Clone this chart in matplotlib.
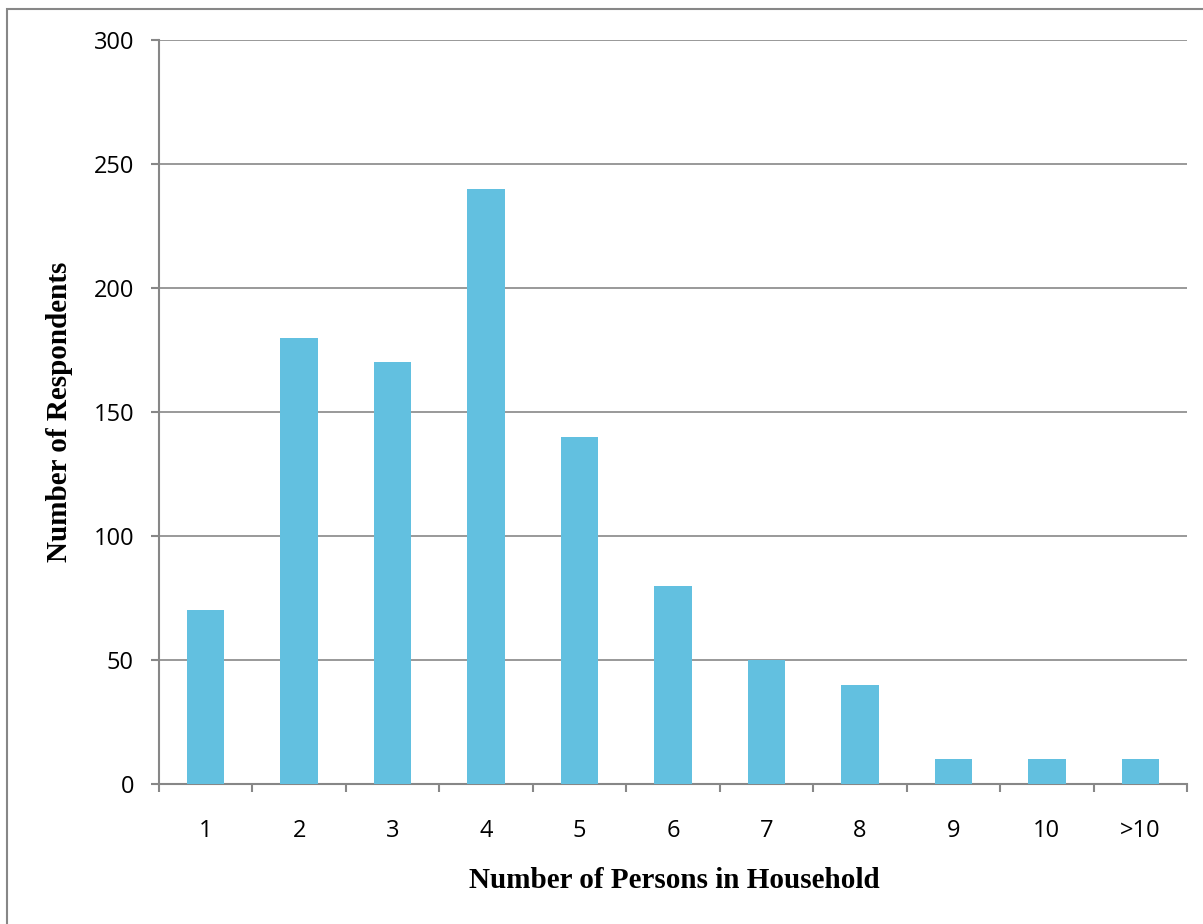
import matplotlib
matplotlib.use("Agg")
import matplotlib.pyplot as plt
from matplotlib.patches import Rectangle
import numpy as np

categories = ["1", "2", "3", "4", "5", "6", "7", "8", "9", "10", ">10"]
respondents = [70, 180, 170, 240, 140, 80, 50, 40, 10, 10, 10]
y_ticks = [0, 50, 100, 150, 200, 250, 300]

W, H = 1203, 924
fig = plt.figure(figsize=(W / 100, H / 100), dpi=100)
fig.patch.set_facecolor("white")

# outer frame (chart area border)
fig.add_artist(Rectangle((7 / W, -0.01), 1.02, 1 - 9 / H + 0.01, transform=fig.transFigure,
                         fill=False, edgecolor="#878787", linewidth=1.5))

ax = fig.add_axes([159 / W, 1 - 784 / H, (1187 - 159) / W, (784 - 40) / H])
x = np.arange(len(categories))
ax.bar(x, respondents, width=0.4, color="#62C0E0", zorder=3)

ax.set_xlim(-0.5, len(categories) - 0.5)
ax.set_ylim(0, 300)
ax.set_yticks(y_ticks)
ax.set_yticklabels([str(v) for v in y_ticks])
ax.set_xticks(x)
ax.set_xticklabels(categories)
ax.set_xticks(np.arange(-0.5, len(categories)), minor=True)

grid_c = "#878787"
ax.yaxis.grid(True, color=grid_c, linewidth=1.2, zorder=0)
ax.set_axisbelow(True)
for s in ["top", "right"]:
    ax.spines[s].set_visible(False)
for s in ["left", "bottom"]:
    ax.spines[s].set_color(grid_c)
    ax.spines[s].set_linewidth(1.5)

ax.tick_params(axis="y", length=6, width=1.5, color=grid_c, labelsize=17, pad=12)
ax.tick_params(axis="x", which="major", length=0, labelsize=17, pad=25)
ax.tick_params(axis="x", which="minor", length=6, width=1.5, color=grid_c)
for lab in ax.get_xticklabels() + ax.get_yticklabels():
    lab.set_fontfamily("Open Sans")

fig.text(674 / W, 1 - 880 / H, "Number of Persons in Household", ha="center", va="center",
         fontsize=21, fontweight="bold", fontfamily="Liberation Serif")
fig.text(60 / W, 1 - 412 / H, "Number of Respondents", ha="center", va="center", rotation=90,
         fontsize=21, fontweight="bold", fontfamily="Liberation Serif")

fig.savefig("out.png", dpi=100)
